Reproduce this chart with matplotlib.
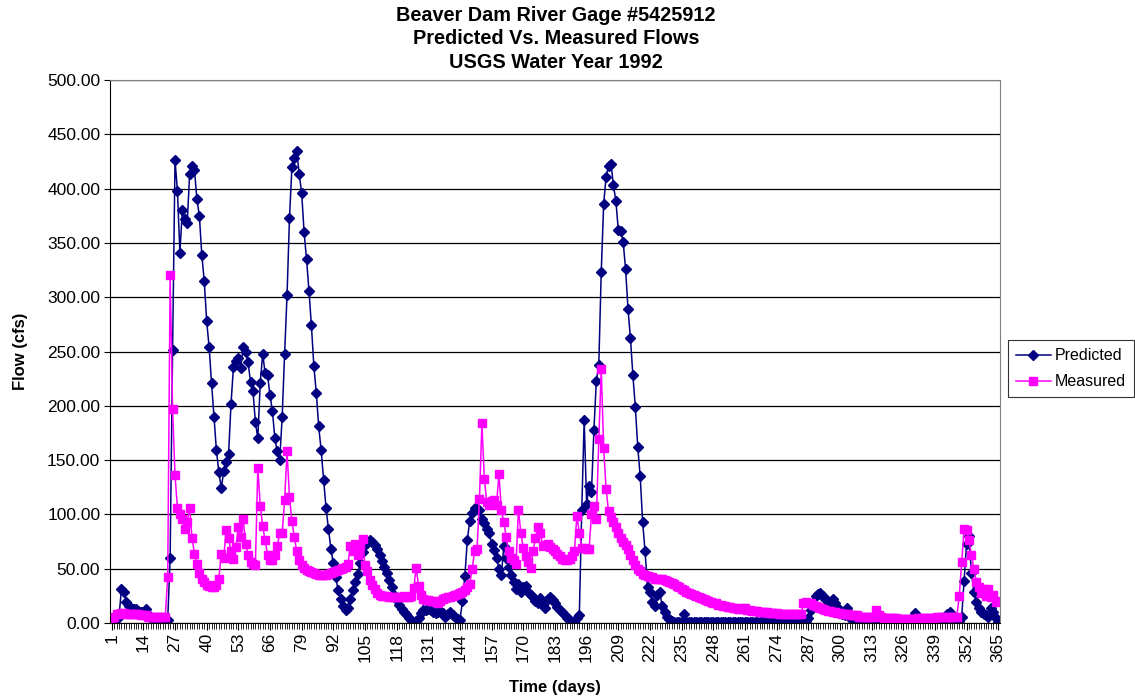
import numpy as np
import matplotlib
matplotlib.use('Agg')
import matplotlib.pyplot as plt
from matplotlib.ticker import MultipleLocator, FormatStrFormatter

plt.rcParams['font.family'] = ['Liberation Sans', 'DejaVu Sans']

title = 'Beaver Dam River Gage #5425912\nPredicted Vs. Measured Flows\nUSGS Water Year 1992'
seriesNames = ['Predicted', 'Measured']

# daily flows (cfs), days 1..365
predicted = [
    3, 4, 5, 6, 31, 29, 19, 16, 14, 13,
    13, 11, 10, 10, 13, 8, 5, 3, 2, 1,
    1, 1, 1, 3, 60, 251, 426, 398, 341, 380,
    372, 368, 413, 421, 417, 390, 375, 339, 315, 278,
    254, 221, 190, 159, 139, 124, 140, 148, 156, 202,
    236, 241, 244, 235, 254, 250, 240, 222, 214, 185,
    170, 221, 248, 230, 228, 210, 195, 170, 158, 150,
    190, 248, 302, 373, 420, 428, 435, 413, 396, 360,
    335, 306, 274, 237, 212, 181, 159, 132, 106, 87,
    68, 55, 42, 30, 22, 16, 12, 14, 22, 30,
    38, 45, 55, 65, 72, 74, 76, 75, 72, 68,
    63, 57, 52, 46, 40, 33, 26, 21, 17, 13,
    10, 8, 5, 3, 1, 2, 5, 9, 12, 12,
    13, 12, 10, 9, 10, 11, 9, 6, 8, 10,
    7, 6, 4, 3, 20, 43, 76, 94, 101, 106,
    105, 104, 96, 92, 87, 83, 73, 67, 60, 50,
    44, 71, 60, 52, 44, 38, 31, 36, 29, 33,
    34, 29, 26, 24, 20, 18, 23, 17, 14, 22,
    24, 21, 18, 15, 12, 10, 7, 5, 3, 1,
    0.5, 5, 7, 104, 187, 110, 126, 121, 178, 223,
    238, 323, 386, 411, 421, 423, 403, 389, 362, 361,
    351, 326, 289, 262, 228, 199, 162, 135, 93, 66,
    33, 29, 19, 16, 26, 29, 16, 10, 6, 4,
    2, 1, 0.5, 0.5, 1, 8, 1, 0.5, 0.5, 0.5,
    0.5, 0.5, 0.5, 0.5, 0.5, 0.5, 0.5, 0.5, 0.5, 0.5,
    0.5, 0.5, 0.5, 0.5, 0.5, 0.5, 0.5, 0.5, 0.5, 0.5,
    0.5, 0.5, 0.5, 0.5, 0.5, 0.5, 0.5, 0.5, 0.5, 0.5,
    0.5, 0.5, 0.5, 0.5, 0.5, 0.5, 0.5, 0.5, 0.5, 0.5,
    0.5, 0.5, 0.5, 0.5, 1, 2, 5, 12, 18, 25,
    27, 28, 25, 22, 20, 19, 22, 18, 15, 10,
    8, 7, 14, 8, 3, 3, 2, 2, 2, 2,
    2, 3, 2, 2, 2, 1, 1, 1, 1, 1,
    1, 1, 1, 1, 1, 1, 1, 1, 2, 3,
    9, 3, 2, 1, 1, 1, 1, 1, 1, 2,
    2, 3, 4, 8, 10, 4, 2, 1, 2, 6,
    39, 73, 80, 46, 29, 19, 14, 10, 8, 7,
    6, 14, 10, 5, 1]

measured = [
    5, 6, 8, 8, 9, 9, 8, 8, 8, 8,
    8, 8, 7, 7, 7, 6, 6, 6, 6, 6,
    6, 6, 6, 42, 320, 197, 136, 106, 100, 96,
    87, 93, 106, 78, 64, 54, 46, 41, 38, 35,
    34, 33, 33, 35, 41, 64, 60, 86, 78, 66,
    59, 70, 88, 79, 96, 73, 63, 56, 54, 53,
    143, 108, 89, 76, 63, 58, 58, 63, 71, 83,
    83, 113, 158, 116, 94, 79, 66, 58, 53, 51,
    49, 48, 47, 46, 45, 44, 44, 44, 44, 45,
    46, 47, 48, 49, 50, 51, 52, 54, 71, 66,
    73, 63, 71, 77, 53, 48, 40, 35, 31, 28,
    26, 25, 25, 25, 24, 24, 24, 24, 24, 24,
    25, 24, 24, 25, 32, 51, 34, 26, 22, 21,
    21, 20, 20, 19, 18, 20, 22, 23, 24, 24,
    25, 26, 27, 28, 29, 30, 33, 36, 50, 66,
    68, 114, 184, 133, 111, 109, 112, 113, 109, 137,
    104, 93, 79, 66, 60, 58, 54, 104, 83, 69,
    62, 56, 51, 66, 78, 88, 83, 71, 72, 73,
    70, 68, 66, 64, 62, 59, 58, 58, 59, 62,
    66, 99, 83, 69, 69, 68, 68, 100, 108, 96,
    169, 234, 161, 123, 103, 98, 93, 88, 83, 78,
    75, 72, 68, 63, 58, 53, 50, 48, 45, 44,
    43, 42, 42, 41, 41, 41, 41, 40, 39, 38,
    37, 36, 34, 33, 31, 30, 29, 28, 27, 26,
    25, 24, 23, 22, 21, 20, 19, 18, 18, 17,
    17, 16, 16, 15, 15, 14, 14, 13, 13, 14,
    14, 12, 12, 11, 11, 11, 10, 10, 10, 10,
    9, 9, 9, 9, 8, 8, 8, 8, 8, 8,
    8, 8, 8, 8, 18, 19, 18, 18, 17, 16,
    15, 14, 13, 12, 11, 11, 10, 10, 9, 9,
    8, 8, 8, 7, 7, 7, 7, 6, 6, 6,
    6, 6, 6, 6, 12, 7, 6, 5, 5, 5,
    5, 5, 5, 4, 4, 4, 4, 4, 4, 4,
    4, 5, 5, 5, 5, 5, 5, 5, 5, 6,
    6, 6, 6, 6, 6, 6, 6, 6, 25, 56,
    87, 86, 76, 63, 50, 38, 33, 28, 31, 25,
    31, 24, 26, 19, 20]

days = np.arange(1, len(predicted) + 1)
tickDays = np.arange(1, 366, 13)

fig = plt.figure(figsize=(11.35, 6.98), dpi=100)
ax = fig.add_axes([0.0969, 0.1074, 0.7841, 0.778])

ax.plot(days, predicted, color='#000080', marker='D', markersize=5, linewidth=1.1, label=seriesNames[0])
ax.plot(days, measured, color='#FF00FF', marker='s', markersize=5.5, linewidth=1.1, label=seriesNames[1])

ax.set_xlim(0.3, 365.7)
ax.set_ylim(0, 500)
ax.yaxis.set_major_locator(MultipleLocator(50))
ax.yaxis.set_major_formatter(FormatStrFormatter('%.2f'))
ax.set_xticks(tickDays)
ax.set_xticklabels([str(d) for d in tickDays], rotation=90)
ax.xaxis.set_minor_locator(MultipleLocator(1))
ax.tick_params(axis='x', which='minor', length=4, width=0.6, direction='out')
ax.tick_params(axis='x', which='major', length=5, labelsize=12.5, pad=2)
ax.tick_params(axis='y', which='major', length=4, labelsize=12.5, pad=3)

ax.grid(True, axis='y', color='black', linewidth=0.9)
ax.set_axisbelow(True)
for side in ['top', 'right']:
    ax.spines[side].set_color('#808080')
for side in ['left', 'bottom']:
    ax.spines[side].set_color('black')

fig.text(0.49, 0.992, title, ha='center', va='top', fontsize=14.3, fontweight='bold', linespacing=1.3)
ax.set_xlabel('Time (days)', fontsize=12, fontweight='bold', labelpad=13)
ax.set_ylabel('Flow (cfs)', fontsize=12, fontweight='bold', labelpad=14)

leg = fig.legend(loc='center left', bbox_to_anchor=(0.888, 0.4715), fontsize=11.5,
                 frameon=True, fancybox=False, edgecolor='black', handlelength=2.2,
                 borderpad=0.5, borderaxespad=0, labelspacing=0.7, handletextpad=0.25)
leg.get_frame().set_linewidth(0.8)

plt.savefig('out.png', dpi=100)
plt.close(fig)
